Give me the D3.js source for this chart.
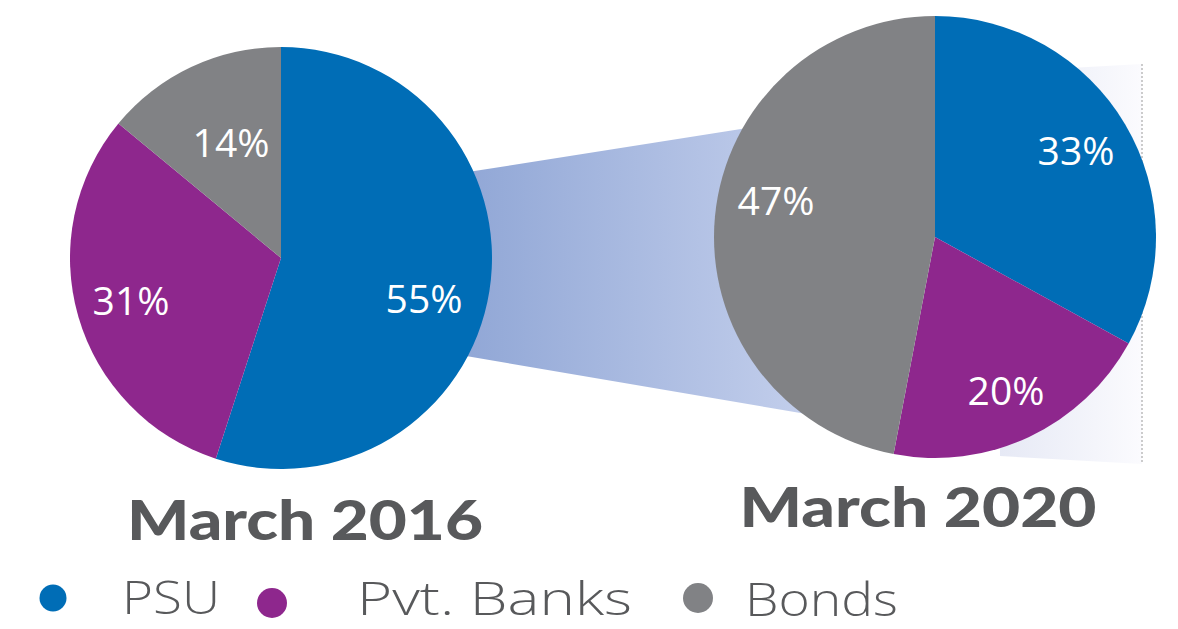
<!DOCTYPE html>
<html>
<head>
<meta charset="utf-8">
<script src="https://cdn.jsdelivr.net/npm/d3@7"></script>
<style>
  body { margin: 0; background: #fff; }
  svg { display: block; }
</style>
</head>
<body>
<script>
// categories and values
var categories = ["PSU", "Pvt. Banks", "Bonds"];
var colors = ["#006db6", "#8e278d", "#818285"];
var values2016 = [55, 31, 14];
var values2020 = [33, 20, 47];
var titles = ["March 2016", "March 2020"];

var width = 1178, height = 629;

var svg = d3.select("body").append("svg")
    .attr("width", width)
    .attr("height", height);

var defs = svg.append("defs");

var band = defs.append("linearGradient")
    .attr("id", "band")
    .attr("x1", "0%").attr("x2", "100%").attr("y1", "0%").attr("y2", "0%");
band.append("stop").attr("offset", "0%").attr("stop-color", "#91a7d6");
band.append("stop").attr("offset", "100%").attr("stop-color", "#c6d1ed");

var fade = defs.append("linearGradient")
    .attr("id", "fade")
    .attr("x1", "0%").attr("x2", "100%").attr("y1", "0%").attr("y2", "0%");
fade.append("stop").attr("offset", "0%").attr("stop-color", "#e6e9f5");
fade.append("stop").attr("offset", "100%").attr("stop-color", "#fbfbfe");

// connector band between the two pies
svg.append("path")
    .attr("d", "M468,172 L760,126 L830,418 L466,356 Z")
    .attr("fill", "url(#band)");

// faint projection behind the right pie
svg.append("path")
    .attr("d", "M1000,72 L1142,64 L1142,464 L1000,456 Z")
    .attr("fill", "url(#fade)");
svg.append("line")
    .attr("x1", 1142).attr("x2", 1142).attr("y1", 64).attr("y2", 464)
    .attr("stroke", "#9a9a9a").attr("stroke-width", 1)
    .attr("stroke-dasharray", "2,2");

var pie = d3.pie().sort(null).value(function(d) { return d; });

var charts = [
  { values: values2016, cx: 281, cy: 258, r: 211,
    labelPos: [[424, 313], [131, 315], [231, 157]],
    title: titles[0], tx: 305, ty: 540, tlen: 356 },
  { values: values2020, cx: 935, cy: 237, r: 221,
    labelPos: [[1076, 165], [1006, 405], [776, 215]],
    title: titles[1], tx: 918, ty: 527, tlen: 357 }
];

charts.forEach(function(c) {
  var g = svg.append("g")
      .attr("transform", "translate(" + c.cx + "," + c.cy + ")");
  var arc = d3.arc().innerRadius(0).outerRadius(c.r);

  g.selectAll("path")
    .data(pie(c.values))
    .enter().append("path")
    .attr("d", arc)
    .attr("fill", function(d, i) { return colors[i]; });

  svg.selectAll(null)
    .data(c.values)
    .enter().append("text")
    .attr("x", function(d, i) { return c.labelPos[i][0]; })
    .attr("y", function(d, i) { return c.labelPos[i][1]; })
    .attr("text-anchor", "middle")
    .attr("fill", "#fff")
    .style("font-family", "'Open Sans', 'Noto Sans', sans-serif")
    .style("font-size", "39px")
    .text(function(d) { return d + "%"; });

  svg.append("text")
    .attr("x", c.tx)
    .attr("y", c.ty)
    .attr("text-anchor", "middle")
    .attr("textLength", c.tlen)
    .attr("lengthAdjust", "spacingAndGlyphs")
    .attr("fill", "#58595b")
    .style("font-family", "Lato, 'Open Sans', sans-serif")
    .style("font-weight", 900)
    .style("font-size", "56px")
    .text(c.title);
});

// legend
var legendDots = [[53, 598, 13.5], [272, 603, 15], [698, 598, 15]];
var legendText = [[122, 614, 98], [357, 615, 275], [745, 616, 153]];

svg.selectAll(".ldot")
  .data(categories)
  .enter().append("circle")
  .attr("class", "ldot")
  .attr("cx", function(d, i) { return legendDots[i][0]; })
  .attr("cy", function(d, i) { return legendDots[i][1]; })
  .attr("r", function(d, i) { return legendDots[i][2]; })
  .attr("fill", function(d, i) { return colors[i]; });

svg.selectAll(".ltext")
  .data(categories)
  .enter().append("text")
  .attr("class", "ltext")
  .attr("x", function(d, i) { return legendText[i][0]; })
  .attr("y", function(d, i) { return legendText[i][1]; })
  .attr("textLength", function(d, i) { return legendText[i][2]; })
  .attr("lengthAdjust", "spacingAndGlyphs")
  .attr("fill", "#58595b")
  .style("font-family", "'Open Sans', 'Noto Sans', sans-serif")
  .style("font-weight", 300)
  .style("font-size", "46px")
  .text(function(d) { return d; });
</script>
</body>
</html>
